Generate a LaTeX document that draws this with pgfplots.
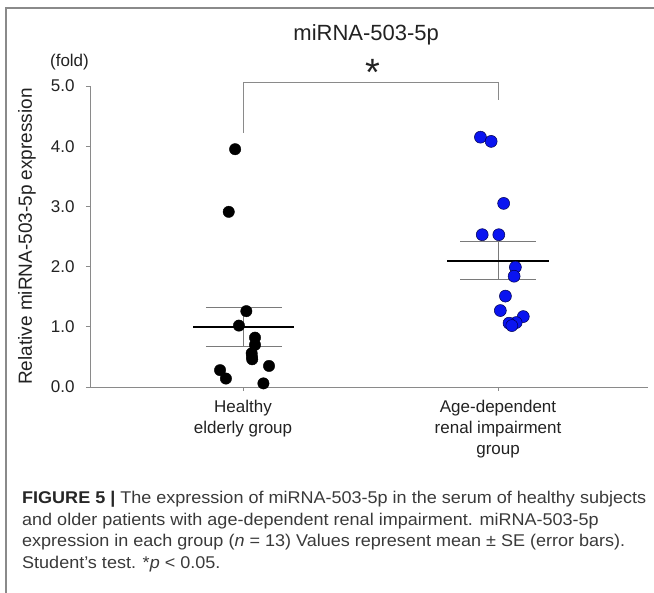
\documentclass[border=0pt]{standalone}
\usepackage{fontspec}
\setmainfont{Liberation Sans}
\newfontfamily\capfont[FakeStretch=1.06]{Liberation Sans}
\usepackage{pgfplots}
\usepackage{pgfplotstable}
\pgfplotsset{compat=1.18}

\definecolor{axgray}{HTML}{8A8A8A}
\definecolor{bargray}{HTML}{7A7A7A}
\definecolor{txt}{HTML}{222222}
\definecolor{capgray}{HTML}{3A3A3A}
\definecolor{dotblue}{HTML}{0A14F0}

% x = group (1 healthy, 2 age-dependent) plus jitter, y = fold
\pgfplotstableread{
x     y
0.969 3.95
0.944 2.91
1.013 1.26
0.984 1.02
1.047 0.82
1.047 0.70
1.035 0.50
1.034 0.56
1.036 0.46
1.102 0.35
0.910 0.28
0.933 0.14
1.080 0.06
}\healthy

\pgfplotstableread{
x     y
1.931 4.15
1.973 4.08
2.022 3.05
1.938 2.53
2.003 2.53
2.068 1.99
2.063 1.84
2.029 1.51
2.009 1.27
2.099 1.17
2.071 1.07
2.043 1.06
2.054 1.02
}\renal

\begin{document}
\begin{tikzpicture}[x=1pt,y=1pt]
\path[use as bounding box] (0,0) rectangle (654,-593);
\draw[axgray, line width=1.2pt] (6,-600) -- (6,-8) -- (660,-8);

\begin{axis}[
  at={(90pt,-387pt)}, anchor=south west,
  scale only axis, width=558pt, height=301pt,
  xmin=0.4, xmax=2.588, ymin=0, ymax=5,
  axis x line*=bottom, axis y line*=left,
  axis line style={-, axgray, line width=0.9pt},
  tick style={axgray, line width=0.8pt},
  tick align=outside, major tick length=4pt,
  xtick={1,2},
  xticklabels={{Healthy\\elderly group},{Age-dependent\\renal impairment\\group}},
  xticklabel style={align=center, text=txt, font=\fontsize{17}{21}\selectfont, yshift=-6pt},
  ytick={0,1,2,3,4,5},
  yticklabel style={/pgf/number format/.cd, fixed, fixed zerofill, precision=1,
    /tikz/.cd, text=txt, font=\fontsize{17}{20}\selectfont, xshift=-8pt},
  /pgf/number format/assume math mode=true,
  ylabel={Relative miRNA-503-5p expression},
  every axis y label/.style={at={(rel axis cs:0,0.5)}, xshift=-63pt, rotate=90, anchor=center,
    text=txt, font=\fontsize{19}{22}\selectfont},
  title={miRNA-503-5p},
  every axis title/.style={at={(rel axis cs:0.495,1)}, anchor=center,
    yshift=51pt, text=txt, font=\fontsize{22}{26}\selectfont},
  clip=false,
]
% SE bars and means
\addplot[bargray, line width=0.9pt] coordinates {(0.854,1.32) (1.152,1.32)};
\addplot[bargray, line width=0.9pt] coordinates {(0.854,0.67) (1.152,0.67)};
\addplot[bargray, line width=0.9pt] coordinates {(1,0.67) (1,1.32)};
\addplot[bargray, line width=0.9pt] coordinates {(1.851,2.41) (2.148,2.41)};
\addplot[bargray, line width=0.9pt] coordinates {(1.851,1.79) (2.148,1.79)};
\addplot[bargray, line width=0.9pt] coordinates {(2,1.79) (2,2.41)};
\addplot[black, line width=2pt] coordinates {(0.804,0.99) (1.200,0.99)};
\addplot[black, line width=2pt] coordinates {(1.801,2.09) (2.200,2.09)};
% points
\addplot[only marks, mark=*, mark size=5.7pt, mark options={fill=black, draw=black}]
  table[x=x, y=y] {\healthy};
\addplot[only marks, mark=*, mark size=6pt, mark options={fill=dotblue, draw=black!70!blue, line width=0.5pt}]
  table[x=x, y=y] {\renal};
% significance bracket
\draw[axgray, line width=0.9pt] (axis cs:1,4.22) -- (axis cs:1,5.066) -- (axis cs:2,5.066) -- (axis cs:2,4.77);
\end{axis}

\node[anchor=base, text=txt, font=\fontsize{38}{38}\selectfont] at (373,-86) {*};
\node[anchor=center, text=txt, font=\fontsize{17}{20}\selectfont] at (69.5,-62) {(fold)};

\begin{scope}[every node/.style={anchor=base west, inner sep=0pt, text=capgray, font=\capfont\fontsize{17}{20}\selectfont}]
\node at (22,-504) {{\bfseries\color{black!85}FIGURE 5 |} The expression of miRNA-503-5p in the serum of healthy subjects};
\node at (22,-525.5) {and older patients with age-dependent renal impairment. miRNA-503-5p};
\node at (22,-547) {expression in each group (\textit{n} = 13) Values represent mean ± SE (error bars).};
\node at (22,-568.5) {Student’s test. *\textit{p} < 0.05.};
\end{scope}
\end{tikzpicture}
\end{document}
